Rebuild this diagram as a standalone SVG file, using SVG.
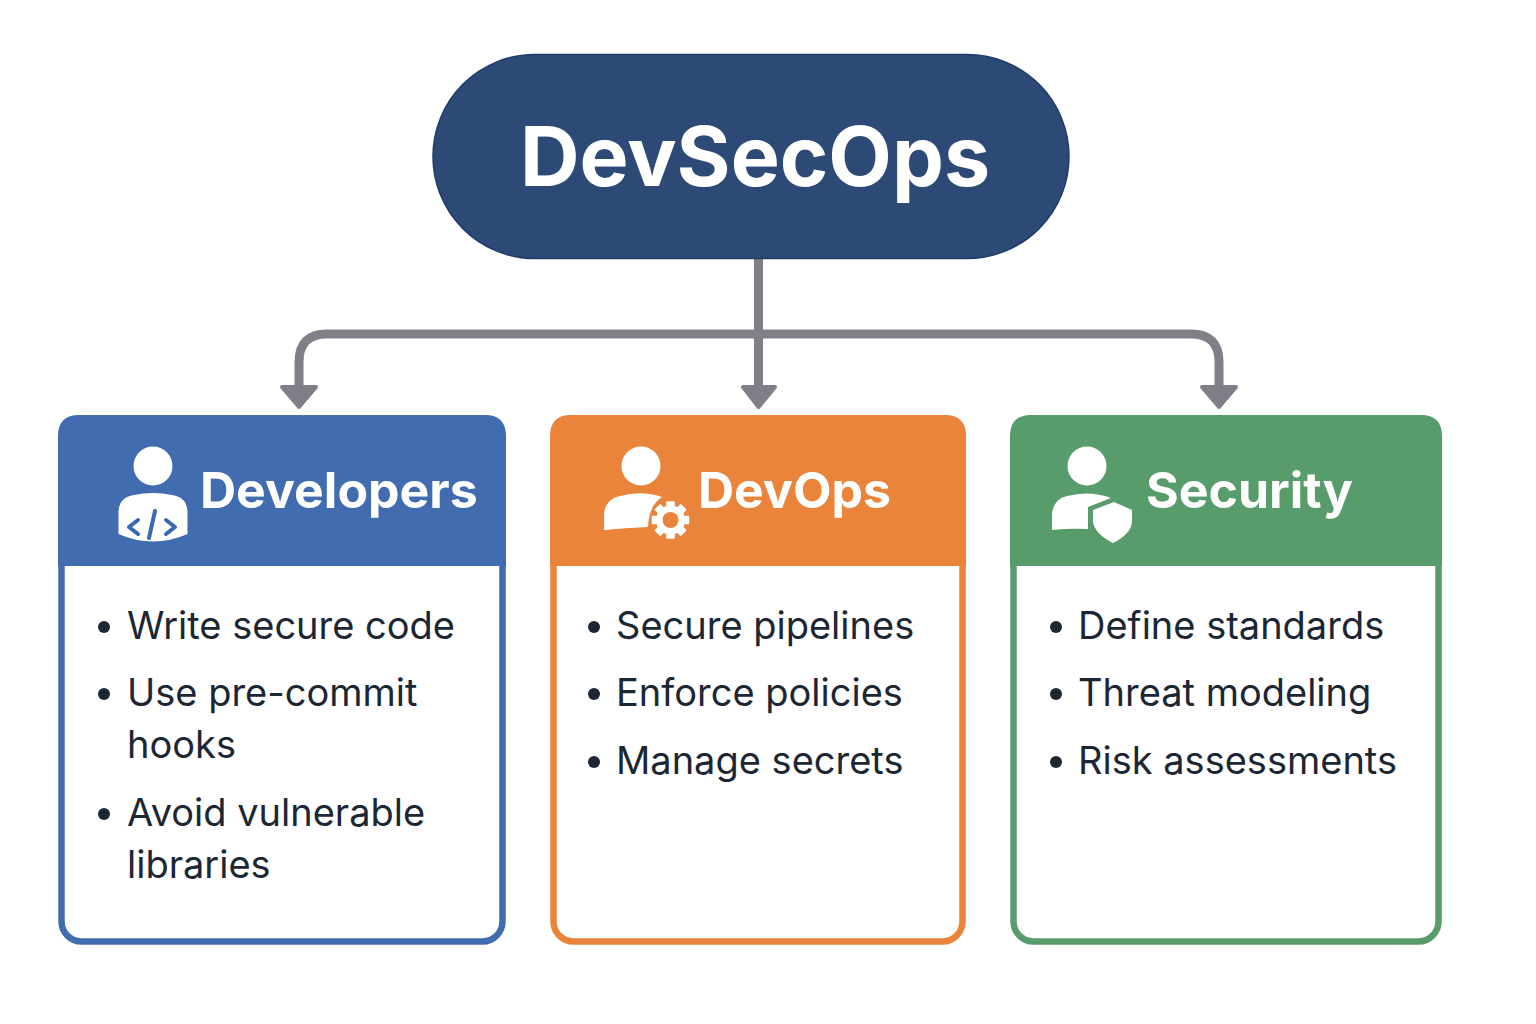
<svg xmlns="http://www.w3.org/2000/svg" width="1536" height="1024" viewBox="0 0 1536 1024">
<style>
text{font-family:Inter,"Liberation Sans",sans-serif}
.title{font-size:82.500px;font-weight:700;fill:#fff}
.head{font-size:50px;font-weight:700;fill:#fff}
.item{font-size:38px;font-weight:400;fill:#1c2733}
.dot{fill:#1c2733}
.line{fill:none;stroke:#7f7f88;stroke-width:9}
.tip{fill:#7f7f88;stroke:#7f7f88;stroke-width:4;stroke-linejoin:round}
.w{fill:#fff}
.tooth{fill:#fff;stroke:#fff;stroke-width:1.500;stroke-linejoin:round}
</style>
<rect width="1536" height="1024" fill="#fff"/>
<g id="connectors">
<path class="line" d="M758.500 258V392"/>
<path class="line" d="M299 392V362Q299 334 327 334H1191Q1219 334 1219 362V392"/>
<path class="tip" d="M282 387H316L299 407Z"/>
<path class="tip" d="M743 387H775L758.500 407Z"/>
<path class="tip" d="M1202 387H1236L1219 407Z"/>
</g>
<g id="root">
<rect x="433" y="54.500" width="636" height="204" rx="102" fill="#2c4a75" stroke="#1f3c6a" stroke-width="1.500"/>
<text class="title" x="755" y="186" text-anchor="middle">DevSecOps</text>
</g>
<g id="developers">
<rect x="61.500" y="418.500" width="441" height="523" rx="20" fill="#fff" stroke="#416db0" stroke-width="6.500"/>
<path d="M58 566V436Q58 415 79 415H485Q506 415 506 436V566Z" fill="#416db0"/>
<text class="head" x="200" y="508">Developers</text>
<circle class="w" cx="153" cy="466" r="19.500"/>
<path class="w" d="M118.500 534V512Q119 497 134 495Q153 491 172 495Q187 497 187.500 512V534Q153 549 118.500 534Z"/>
<path d="M138 520L129 527L138 534M166 520L175 527L166 534M155 511L149 538" fill="none" stroke="#3a69b2" stroke-width="4" stroke-linecap="round" stroke-linejoin="round"/>
<circle class="dot" cx="104" cy="627" r="6"/>
<text class="item" x="127" y="639">Write secure code</text>
<circle class="dot" cx="104" cy="694" r="6"/>
<text class="item" x="127" y="706">Use pre-commit</text>
<text class="item" x="127" y="758">hooks</text>
<circle class="dot" cx="104" cy="814" r="6"/>
<text class="item" x="127" y="826">Avoid vulnerable</text>
<text class="item" x="127" y="878">libraries</text>
</g>
<g id="devops">
<rect x="553.500" y="418.500" width="409" height="523" rx="20" fill="#fff" stroke="#eb843b" stroke-width="6.500"/>
<path d="M550 566V436Q550 415 571 415H945Q966 415 966 436V566Z" fill="#eb843b"/>
<text class="head" x="698" y="508">DevOps</text>
<circle class="w" cx="641" cy="466" r="19.500"/>
<path class="w" d="M604 530V513Q606 499 620 496Q642 490 662 497Q649 505 648 527Q625 528 604 530Z"/>
<g transform="translate(670.500 520)">
<circle r="14.500" class="w"/>
<path class="tooth" d="M-3.500-18H3.500V-12H-3.500ZM-3.500 12H3.500V18H-3.500ZM-18-3.500V3.500H-12V-3.500ZM12-3.500V3.500H18V-3.500Z"/>
<path class="tooth" transform="rotate(45)" d="M-3.500-18H3.500V-12H-3.500ZM-3.500 12H3.500V18H-3.500ZM-18-3.500V3.500H-12V-3.500ZM12-3.500V3.500H18V-3.500Z"/>
<circle r="8" fill="#eb843b"/>
</g>
<circle class="dot" cx="594" cy="627" r="6"/>
<text class="item" x="616" y="639">Secure pipelines</text>
<circle class="dot" cx="594" cy="694" r="6"/>
<text class="item" x="616" y="706">Enforce policies</text>
<circle class="dot" cx="594" cy="762" r="6"/>
<text class="item" x="616" y="774">Manage secrets</text>
</g>
<g id="security">
<rect x="1013.500" y="418.500" width="425" height="523" rx="20" fill="#fff" stroke="#589c6b" stroke-width="6.500"/>
<path d="M1010 566V436Q1010 415 1031 415H1421Q1442 415 1442 436V566Z" fill="#589c6b"/>
<text class="head" x="1146" y="508">Security</text>
<circle class="w" cx="1087" cy="466" r="19.500"/>
<path class="w" d="M1052 530V513Q1054 499 1067 496Q1090 490 1111 498L1088 507V529Q1070 528 1052 530Z"/>
<path class="w" d="M1114 502L1132 510V522Q1131 534 1113 543Q1095 534 1093 522V510Z"/>
<circle class="dot" cx="1056" cy="627" r="6"/>
<text class="item" x="1078" y="639">Define standards</text>
<circle class="dot" cx="1056" cy="694" r="6"/>
<text class="item" x="1078" y="706">Threat modeling</text>
<circle class="dot" cx="1056" cy="762" r="6"/>
<text class="item" x="1078" y="774">Risk assessments</text>
</g>
</svg>
